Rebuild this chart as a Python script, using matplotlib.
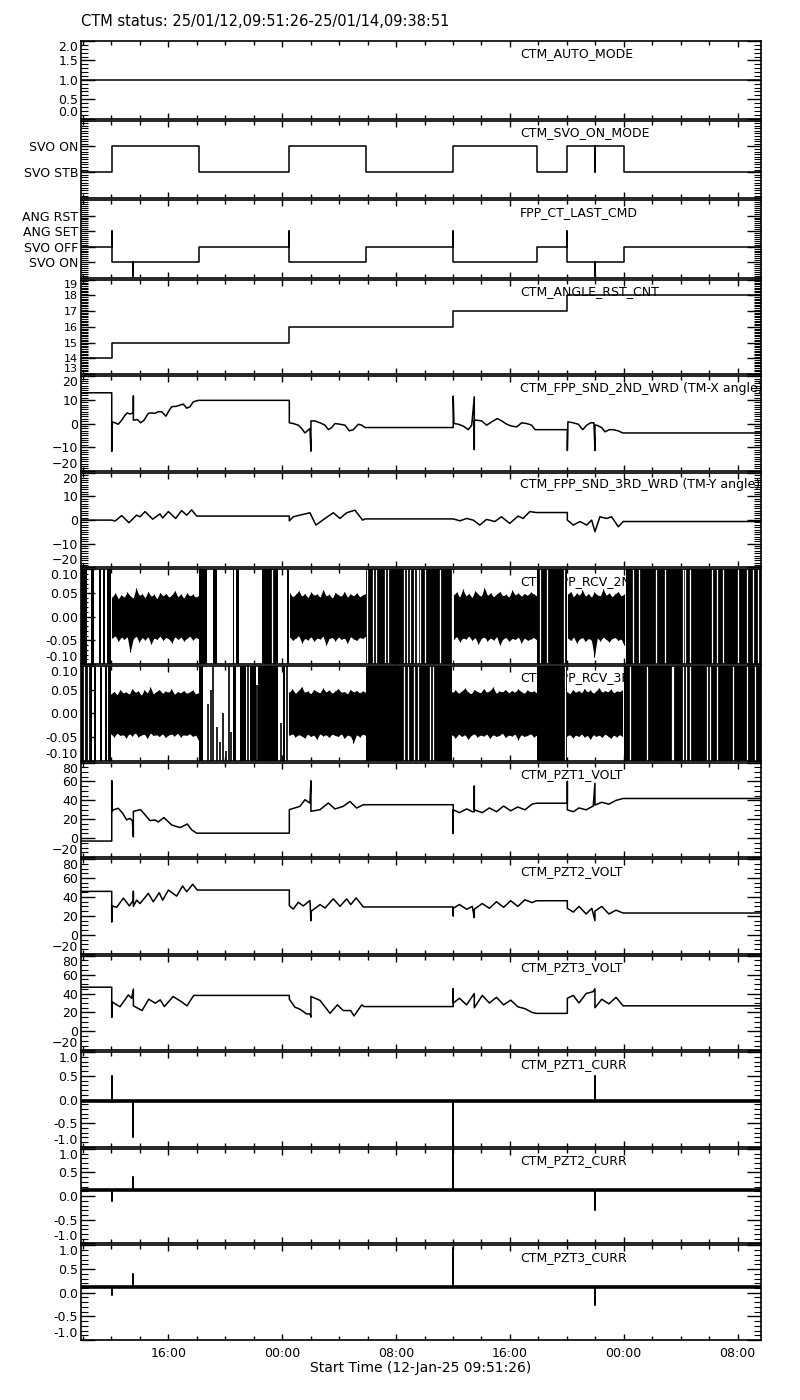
import numpy as np
import matplotlib
matplotlib.use("Agg")
import matplotlib.pyplot as plt
import matplotlib.dates as mdates
from matplotlib.ticker import MultipleLocator, FixedLocator, FixedFormatter, FormatStrFormatter
from datetime import datetime

start = datetime(2025, 1, 12, 9, 51, 26)
end = datetime(2025, 1, 14, 9, 38, 51)
span_h = (end - start).total_seconds() / 3600.0
title = "CTM status: 25/01/12,09:51:26-25/01/14,09:38:51"

# ---- data (hours since start) ----
auto_t = [0.0, span_h]
auto_v = [1.0, 1.0]

svo_t = [0, 2.18, 2.18, 8.27, 8.27, 14.64, 14.64, 20.01, 20.01, 26.16, 26.16, 32.03, 32.03,
         34.18, 34.18, 36.12, 36.12, 36.12, 38.16, 38.16, span_h]
svo_v = [1, 1, 2, 2, 1, 1, 2, 2, 1, 1, 2, 2, 1, 1, 2, 2, 1, 2, 2, 1, 1]

cmd_t = [0, 2.18, 2.18, 2.18, 3.68, 3.68, 3.68, 8.27, 8.27, 14.64, 14.64, 14.64, 20.01, 20.01,
         26.16, 26.16, 26.16, 32.03, 32.03, 34.18, 34.18, 34.18, 36.12, 36.12, 36.12, 38.16, 38.16, span_h]
cmd_v = [2, 2, 3, 1, 1, 0, 1, 1, 2, 2, 3, 1, 1, 2, 2, 3, 1, 1, 2, 2, 3, 1, 1, 0, 1, 1, 2, 2]

rst_t = [0, 2.18, 2.18, 14.64, 14.64, 26.16, 26.16, 34.18, 34.18, span_h]
rst_v = [14, 14, 15, 15, 16, 16, 17, 17, 18, 18]

x_t = [0, 2.16, 2.16, 2.16, 2.39, 2.62, 2.86, 3.09, 3.26, 3.44, 3.56, 3.68, 3.68, 3.68, 3.96, 4.19, 4.43,
       4.73, 4.97, 5.20, 5.43, 5.67, 5.97, 6.14, 6.37, 6.72, 6.96, 7.19, 7.43, 7.66, 7.89, 8.13, 8.27,
       14.64, 14.64, 14.92, 15.27, 15.51, 15.74, 16.09, 16.16, 16.16, 16.44, 16.80, 17.15, 17.38, 17.62,
       17.85, 18.20, 18.55, 18.86, 19.14, 19.49, 19.73, 19.96,
       26.16, 26.16, 26.21, 26.52, 26.87, 27.22, 27.46, 27.64, 27.64, 27.64, 27.81, 28.16, 28.51, 28.86,
       29.26, 29.57, 29.92, 30.27, 30.62, 30.97, 31.32, 31.67, 31.91,
       34.18, 34.18, 34.22, 34.60, 34.95, 35.26, 35.54, 35.82, 36.05, 36.12, 36.12, 36.24, 36.59, 36.83,
       37.13, 37.41, 37.76, 38.07, span_h]
x_v = [13, 13, -11.7, 0.7, 0.3, -0.3, 1.4, 3.5, 4.5, 4.0, 4.3, 4.3, 11.6, 1.4, 1.7, 0.3, 1.4,
       4.3, 4.5, 4.3, 5.0, 5.0, 3.1, 5.0, 7.1, 7.3, 7.8, 8.2, 6.5, 7.1, 9.2, 9.6, 9.8,
       9.8, 0.3, 0.0, -0.7, -2.1, -4.0, -2.1, -11.7, 1.1, 1.1, 0.3, -0.7, -2.6, -1.7,
       0.0, -0.3, -0.7, -3.1, -2.6, -0.3, -0.7, -1.7,
       -1.7, 11.6, 0.0, -0.3, -1.1, -2.6, -0.7, 11.3, -11.0, 1.4, 1.4, 1.1, -0.7, 0.7,
       2.1, 1.1, -0.3, -1.1, -1.4, 0.3, 0.0, -0.7, -2.6,
       -2.6, -11.4, 0.7, 0.3, -0.3, -2.6, -0.7, 0.3, 0.3, -11.4, -0.7, -0.7, -1.7, -3.5,
       -2.6, -2.6, -3.1, -4.0, -4.0]

y_t = [0, 2.16, 2.39, 2.86, 3.37, 3.91, 4.15, 4.50, 5.04, 5.55, 5.74, 6.14, 6.65, 7.07, 7.43, 7.78, 8.13,
       14.64, 14.64, 14.92, 15.39, 16.09, 16.51, 17.15, 17.73, 18.20, 18.67, 19.25, 19.79, 19.96,
       26.16, 26.63, 27.10, 27.56, 28.03, 28.50, 29.08, 29.55, 30.13, 30.72, 31.07, 31.54, 32.00,
       34.18, 34.18, 34.60, 35.07, 35.54, 35.89, 36.12, 36.47, 36.94, 37.29, 37.76, 38.11, span_h]
y_v = [0, 0, -0.4, 1.9, -1.1, 2.1, 1.4, 3.6, 0.4, 2.6, 0.9, 3.6, 0.7, 4.0, 2.1, 4.3, 1.7,
       1.7, -0.3, 1.4, 2.1, 3.1, -2.1, 0.7, 3.1, 0.7, 3.1, 4.2, 0.0, 0.5,
       0.5, -0.3, 0.7, 0.0, -2.1, 0.3, -0.6, 1.4, -1.4, 1.7, 0.7, 3.6, 3.2,
       3.2, 0.0, -2.1, -0.6, -2.1, 0.0, -4.9, 1.4, 0.7, 1.4, -2.8, -0.6, -0.6]

p1_t = [0, 2.16, 2.16, 2.16, 2.27, 2.62, 2.93, 3.21, 3.44, 3.61, 3.68, 3.68, 4.19, 4.85, 5.20, 5.43, 5.83,
        6.37, 6.96, 7.47, 7.78, 8.13, 14.64, 14.64, 15.16, 15.39, 15.74, 16.09, 16.16, 16.16, 16.80,
        17.38, 17.85, 18.43, 18.90, 19.37, 19.84,
        26.16, 26.16, 26.16, 26.6, 27.1, 27.5, 27.64, 27.64, 27.64, 28.2, 28.7, 29.2, 29.7, 30.2, 30.7,
        31.2, 31.7, 32.0, 34.18, 34.18, 34.18, 34.6, 35.0, 35.5, 36.0, 36.12, 36.12, 36.6, 37.1, 37.6,
        38.1, span_h]
p1_v = [-3, -3, 60.7, 28.4, 30, 31.6, 26.3, 19.3, 21, 18.6, 1.4, 28.4, 30.2, 18.6, 19.3, 17.2, 21.8,
        14, 11.2, 15, 8.8, 5.3, 5.3, 30.2, 32.6, 33.7, 40.7, 37.2, 60.7, 28.4, 30.2,
        37.2, 30.9, 33.7, 38.9, 31.9, 35.4,
        35.4, 5, 30, 27, 31, 28, 28, 55, 30, 27, 32, 28, 34, 29, 33,
        30, 36, 37, 37, 60, 30, 28, 32, 30, 34, 58, 35, 38, 36, 40,
        42, 42]

p2_t = [0, 2.16, 2.16, 2.16, 2.51, 2.98, 3.40, 3.68, 3.68, 3.68, 3.91, 4.15, 4.73, 5.08, 5.50, 5.74,
        6.14, 6.72, 7.14, 7.43, 7.85, 8.17, 14.64, 14.64, 14.92, 15.27, 15.62, 16.09, 16.16, 16.16,
        16.80, 17.15, 17.73, 18.20, 18.67, 18.96, 19.34, 19.84,
        26.16, 26.16, 26.16, 26.6, 27.1, 27.5, 27.64, 27.64, 28.2, 28.7, 29.2, 29.7, 30.2, 30.7,
        31.2, 31.7, 32.0, 34.18, 34.18, 34.6, 35.0, 35.5, 35.9, 36.12, 36.12, 36.6, 37.1, 37.6, 38.1, span_h]
p2_v = [45.9, 45.9, 13.7, 30.5, 29.1, 38.8, 30.5, 36.6, 45.9, 30, 36.6, 33, 43.8, 34.9, 44.5, 36.6,
        47.3, 40.9, 51.6, 45.5, 53.4, 47.3, 47.3, 30.8, 27.2, 34.4, 30.5, 36.2, 14.9, 24.7,
        31.9, 28.3, 38, 30.1, 38, 31.9, 39, 29.4,
        29.4, 20, 28, 32, 27, 30, 18, 27, 33, 28, 35, 29, 36, 30,
        37, 34, 36, 36, 28, 24, 30, 22, 28, 15, 25, 30, 22, 26, 23, 23]

p3_t = [0, 2.16, 2.16, 2.16, 2.74, 3.33, 3.56, 3.68, 3.68, 4.29, 4.76, 5.22, 5.57, 5.86, 6.47, 7.03,
        7.45, 7.92, 14.64, 14.64, 15.04, 15.39, 15.86, 16.09, 16.16, 16.16, 16.80, 17.50, 18.02, 18.43,
        18.95, 19.19, 19.73, 19.9,
        26.16, 26.16, 26.16, 26.6, 27.1, 27.64, 27.64, 28.2, 28.7, 29.2, 29.7, 30.2, 30.7, 31.2, 31.7,
        32.0, 34.18, 34.18, 34.6, 35.0, 35.5, 36.0, 36.12, 36.12, 36.6, 37.1, 37.6, 38.1, span_h]
p3_v = [46.7, 46.7, 14.8, 31.4, 26, 38.5, 35, 44.7, 27, 22, 34, 29.8, 33.3, 26.2, 36.9, 31.6,
        27, 38, 38, 34, 25.5, 23.4, 18.4, 18.4, 15, 36.9, 32.7, 19.1, 28, 22,
        22, 16.3, 28, 26.2,
        26.2, 45, 30, 35, 28, 40, 25, 38, 30, 36, 28, 33, 26, 24, 20,
        19, 19, 35, 38, 30, 40, 42, 45, 25, 34, 29, 36, 27, 27]

c1_t = [0, 2.18, 2.18, 2.18, 3.68, 3.68, 3.68, 26.16, 26.16, 26.16, 36.12, 36.12, 36.12, span_h]
c1_v = [-0.02, -0.02, 0.5, -0.02, -0.02, -0.8, -0.02, -0.02, -1.0, -0.02, -0.02, 0.5, -0.02, -0.02]
c2_t = [0, 2.18, 2.18, 2.18, 3.68, 3.68, 3.68, 26.16, 26.16, 26.16, 36.12, 36.12, 36.12, span_h]
c2_v = [0.12, 0.12, -0.1, 0.12, 0.12, 0.4, 0.12, 0.12, 1.0, 0.12, 0.12, -0.3, 0.12, 0.12]
c3_t = [0, 2.18, 2.18, 2.18, 3.68, 3.68, 3.68, 26.16, 26.16, 26.16, 36.12, 36.12, 36.12, span_h]
c3_v = [0.12, 0.12, -0.05, 0.12, 0.12, 0.4, 0.12, 0.12, 0.95, 0.12, 0.12, -0.25, 0.12, 0.12]

# RCV words: saturated (black) time ranges, white gaps, noise envelopes
rcv2_black = [(0.00, 0.44), (0.68, 0.93), (1.24, 1.41), (1.53, 1.71), (1.85, 2.13), (8.29, 8.88),
              (9.30, 9.58), (10.66, 10.75), (10.89, 11.13), (12.35, 12.39), (12.70, 13.87),
              (14.50, 14.60), (20.01, 26.16), (32.03, 34.18), (38.30, span_h)]
rcv2_white = [13.42, 20.13, 20.52, 20.70, 21.33, 21.61, 22.70, 22.89, 23.12, 23.40, 23.59, 23.71,
              23.82, 24.18, 25.23, 26.05, 32.26, 32.75, 33.94, 38.79, 39.22, 40.41, 41.05, 42.31,
              42.45, 42.80, 44.35, 44.70, 45.12, 46.17, 46.80, 47.22, 47.57]
rcv2_bands = [(2.20, 8.27), (14.66, 20.01), (26.18, 32.03), (34.20, 38.16)]
rcv2_up = [
    [0.042, 0.050, 0.038, 0.046, 0.041, 0.052, 0.044, 0.039, 0.060, 0.045, 0.048, 0.040, 0.053, 0.043, 0.047,
     0.038, 0.051, 0.044, 0.049, 0.041, 0.046, 0.055, 0.042, 0.048, 0.039, 0.050, 0.044, 0.047, 0.041, 0.045],
    [0.050, 0.042, 0.047, 0.055, 0.043, 0.049, 0.040, 0.052, 0.045, 0.048, 0.041, 0.057, 0.044, 0.047,
     0.039, 0.051, 0.046, 0.043, 0.053, 0.041, 0.048, 0.044, 0.050, 0.042, 0.046, 0.049],
    [0.046, 0.052, 0.041, 0.058, 0.044, 0.049, 0.040, 0.055, 0.047, 0.043, 0.061, 0.045, 0.050, 0.042,
     0.048, 0.053, 0.044, 0.047, 0.041, 0.056, 0.046, 0.050, 0.043, 0.049, 0.045, 0.052, 0.048, 0.044],
    [0.047, 0.053, 0.042, 0.050, 0.045, 0.056, 0.043, 0.049, 0.041, 0.052, 0.046, 0.044, 0.058, 0.045,
     0.050, 0.042, 0.048, 0.053, 0.044, 0.047]]
rcv2_lo = [
    [-0.045, -0.040, -0.052, -0.043, -0.048, -0.042, -0.075, -0.047, -0.041, -0.053, -0.044, -0.049, -0.042,
     -0.058, -0.045, -0.048, -0.041, -0.050, -0.044, -0.047, -0.055, -0.042, -0.048, -0.043, -0.051, -0.046,
     -0.041, -0.049, -0.044, -0.047],
    [-0.043, -0.050, -0.045, -0.040, -0.055, -0.046, -0.049, -0.042, -0.052, -0.045, -0.047, -0.041, -0.060,
     -0.046, -0.044, -0.051, -0.043, -0.048, -0.045, -0.056, -0.042, -0.047, -0.050, -0.044, -0.046, -0.041],
    [-0.048, -0.042, -0.053, -0.045, -0.047, -0.041, -0.050, -0.044, -0.058, -0.046, -0.043, -0.051, -0.045,
     -0.049, -0.042, -0.060, -0.047, -0.044, -0.052, -0.046, -0.048, -0.043, -0.055, -0.045, -0.050, -0.047,
     -0.044, -0.049],
    [-0.045, -0.050, -0.043, -0.055, -0.047, -0.044, -0.052, -0.046, -0.049, -0.085, -0.045, -0.051, -0.043,
     -0.048, -0.053, -0.046, -0.044, -0.050, -0.047, -0.060]]

rcv3_black = [(0.00, 0.75), (0.91, 1.05), (1.34, 1.48), (1.69, 1.85), (1.92, 2.11), (8.27, 8.60),
              (10.68, 10.89), (11.17, 11.60), (11.88, 12.30), (12.44, 13.84), (14.20, 14.34),
              (20.01, 26.05), (32.03, 34.13), (38.16, span_h)]
rcv3_white = [0.21, 0.49, 22.70, 22.98, 23.40, 23.68, 24.53, 24.74, 34.01, 38.58, 39.78, 41.54,
              41.63, 42.29, 42.52, 42.80, 43.99, 44.21, 44.70, 45.82, 46.80, 47.37]
rcv3_part_t = [8.95, 9.11, 9.30, 9.54, 9.77, 10.00, 10.20, 10.40, 10.52, 11.75, 12.36, 14.05, 14.45]
rcv3_part_top = [0.02, 0.05, 0.10, -0.03, -0.06, 0.00, -0.08, 0.10, -0.04, 0.10, 0.06, -0.02, 0.10]
rcv3_bands = [(2.11, 8.27), (14.64, 20.01), (26.10, 32.03), (34.15, 38.05)]
rcv3_up = [
    [0.041, 0.046, 0.039, 0.050, 0.043, 0.045, 0.040, 0.052, 0.044, 0.047, 0.038, 0.049, 0.043, 0.055, 0.041,
     0.046, 0.050, 0.042, 0.047, 0.044, 0.051, 0.040, 0.046, 0.043, 0.048, 0.042, 0.045, 0.049, 0.041, 0.044],
    [0.045, 0.051, 0.042, 0.048, 0.056, 0.044, 0.047, 0.041, 0.050, 0.046, 0.043, 0.053, 0.045, 0.049,
     0.042, 0.047, 0.052, 0.044, 0.046, 0.041, 0.050, 0.045, 0.048, 0.043, 0.047, 0.044],
    [0.044, 0.049, 0.042, 0.047, 0.053, 0.045, 0.041, 0.050, 0.046, 0.043, 0.052, 0.044, 0.048, 0.055,
     0.042, 0.047, 0.045, 0.050, 0.043, 0.048, 0.044, 0.051, 0.046, 0.042, 0.049, 0.045, 0.047, 0.043],
    [0.046, 0.041, 0.050, 0.044, 0.048, 0.043, 0.052, 0.045, 0.049, 0.042, 0.047, 0.054, 0.044, 0.048,
     0.045, 0.051, 0.043, 0.047, 0.046, 0.049]]
rcv3_lo = [
    [-0.044, -0.050, -0.042, -0.047, -0.045, -0.052, -0.043, -0.048, -0.041, -0.050, -0.046, -0.044, -0.053,
     -0.042, -0.047, -0.045, -0.049, -0.043, -0.051, -0.046, -0.044, -0.048, -0.042, -0.050, -0.045, -0.047,
     -0.043, -0.049, -0.046, -0.058],
    [-0.047, -0.043, -0.050, -0.045, -0.048, -0.052, -0.044, -0.049, -0.046, -0.055, -0.043, -0.048, -0.045,
     -0.051, -0.044, -0.047, -0.049, -0.043, -0.053, -0.046, -0.048, -0.062, -0.045, -0.050, -0.044, -0.047],
    [-0.046, -0.052, -0.044, -0.049, -0.045, -0.055, -0.047, -0.043, -0.050, -0.046, -0.048, -0.044, -0.053,
     -0.045, -0.049, -0.047, -0.042, -0.051, -0.046, -0.048, -0.044, -0.056, -0.045, -0.049, -0.047, -0.043,
     -0.050, -0.046],
    [-0.048, -0.045, -0.052, -0.046, -0.049, -0.044, -0.050, -0.047, -0.055, -0.045, -0.049, -0.046, -0.051,
     -0.044, -0.048, -0.053, -0.046, -0.050, -0.045, -0.049]]

names = ["CTM_AUTO_MODE", "CTM_SVO_ON_MODE", "FPP_CT_LAST_CMD", "CTM_ANGLE_RST_CNT",
         "CTM_FPP_SND_2ND_WRD (TM-X angle)", "CTM_FPP_SND_3RD_WRD (TM-Y angle)",
         "CTM_FPP_RCV_2ND_WRD", "CTM_FPP_RCV_3RD_WRD",
         "CTM_PZT1_VOLT", "CTM_PZT2_VOLT", "CTM_PZT3_VOLT",
         "CTM_PZT1_CURR", "CTM_PZT2_CURR", "CTM_PZT3_CURR"]


t0 = mdates.date2num(start)


def tt(h):
    return t0 + np.asarray(h, dtype=float) / 24.0


plt.rcParams['font.family'] = 'DejaVu Sans'
plt.rcParams['font.size'] = 9

fig = plt.figure(figsize=(8, 14), dpi=100)
gs = fig.add_gridspec(14, 1, left=81/800, right=761/800, top=1-41/1400, bottom=1-1340/1400,
                      hspace=0.022, height_ratios=[0.82]*3 + [1]*11)
axes = [fig.add_subplot(gs[i]) for i in range(14)]

LW = 1.1

for i, ax in enumerate(axes):
    ax.set_xlim(tt(0), tt(span_h))
    ax.xaxis.set_major_locator(mdates.HourLocator(byhour=[0, 8, 16]))
    ax.xaxis.set_minor_locator(mdates.HourLocator(byhour=range(0, 24, 2)))
    ax.xaxis.set_major_formatter(mdates.DateFormatter('%H:%M'))
    ax.tick_params(axis='x', which='both', direction='in', top=True, bottom=True, pad=5)
    ax.tick_params(axis='x', which='major', length=4.5, width=1)
    ax.tick_params(axis='x', which='minor', length=3, width=1)
    ax.tick_params(axis='y', which='both', direction='in', left=True, right=True, pad=2)
    ax.tick_params(axis='y', which='major', length=10, width=1)
    ax.tick_params(axis='y', which='minor', length=5, width=0.8)
    if i < 13:
        ax.tick_params(labelbottom=False)
    for s in ax.spines.values():
        s.set_linewidth(1.2)
        s.set_zorder(5)
    ax.annotate(names[i], xy=(0.6456, 1), xycoords='axes fraction', xytext=(0, -4),
                textcoords='offset points', ha='left', va='top', fontsize=9, zorder=0.5)

# 1 auto mode
ax = axes[0]
ax.plot(tt(auto_t), auto_v, color='k', lw=LW)
ax.set_ylim(0, 2)
ax.yaxis.set_major_locator(MultipleLocator(0.5))
ax.yaxis.set_minor_locator(MultipleLocator(0.1))
ax.yaxis.set_major_formatter(FormatStrFormatter('%.1f'))

# 2 servo on mode
ax = axes[1]
ax.plot(tt(svo_t), svo_v, color='k', lw=LW)
ax.set_ylim(0, 3)
ax.yaxis.set_major_locator(FixedLocator([1, 2]))
ax.yaxis.set_major_formatter(FixedFormatter(["SVO STB", "SVO ON"]))
ax.yaxis.set_minor_locator(MultipleLocator(0.1))

# 3 last cmd
ax = axes[2]
ax.plot(tt(cmd_t), cmd_v, color='k', lw=LW)
ax.set_ylim(0, 5)
ax.yaxis.set_major_locator(FixedLocator([1, 2, 3, 4]))
ax.yaxis.set_major_formatter(FixedFormatter(["SVO ON", "SVO OFF", "ANG SET", "ANG RST"]))
ax.yaxis.set_minor_locator(MultipleLocator(0.125))

# 4 angle reset count
ax = axes[3]
ax.plot(tt(rst_t), rst_v, color='k', lw=LW)
ax.set_ylim(13, 19)
ax.yaxis.set_major_locator(MultipleLocator(1))
ax.yaxis.set_minor_locator(MultipleLocator(0.1))
ax.tick_params(axis='y', labelsize=8)

# 5, 6 angles
for ax, t, v in [(axes[4], x_t, x_v), (axes[5], y_t, y_v)]:
    ax.plot(tt(t), v, color='k', lw=LW)
    ax.set_ylim(-20, 20)
    ax.yaxis.set_major_locator(MultipleLocator(10))
    ax.yaxis.set_minor_locator(MultipleLocator(1))

# 7, 8 received words
for ax, blk, wht, bands, ups, los in [(axes[6], rcv2_black, rcv2_white, rcv2_bands, rcv2_up, rcv2_lo),
                                      (axes[7], rcv3_black, rcv3_white, rcv3_bands, rcv3_up, rcv3_lo)]:
    for a, b in blk:
        ax.axvspan(tt(a), tt(b), color='k', lw=0, zorder=2)
    ax.vlines(tt(wht), -0.1, 0.1, color='white', lw=0.9, zorder=3)
    for (a, b), up, lo in zip(bands, ups, los):
        tb = tt(np.linspace(a, b, len(up)))
        ax.fill_between(tb, lo, up, color='k', lw=0, zorder=2)
        ax.vlines(tb, lo, up, color='k', lw=0.8, zorder=2)
    ax.set_ylim(-0.1, 0.1)
    ax.yaxis.set_major_locator(MultipleLocator(0.05))
    ax.yaxis.set_minor_locator(MultipleLocator(0.01))
    ax.yaxis.set_major_formatter(FormatStrFormatter('%.2f'))
axes[7].vlines(tt(rcv3_part_t), -0.1, rcv3_part_top, color='k', lw=1.2, zorder=2)

# 9-11 PZT voltages
for ax, t, v in [(axes[8], p1_t, p1_v), (axes[9], p2_t, p2_v), (axes[10], p3_t, p3_v)]:
    ax.plot(tt(t), v, color='k', lw=LW)
    ax.set_ylim(-20, 80)
    ax.yaxis.set_major_locator(MultipleLocator(20))
    ax.yaxis.set_minor_locator(MultipleLocator(5))

# 12-14 PZT currents
for ax, t, v in [(axes[11], c1_t, c1_v), (axes[12], c2_t, c2_v), (axes[13], c3_t, c3_v)]:
    ax.plot(tt(t), v, color='k', lw=LW)
    ax.plot(tt([t[0], t[-1]]), [v[0], v[-1]], color='k', lw=2.6)
    ax.set_ylim(-1.0, 1.0)
    ax.yaxis.set_major_locator(MultipleLocator(0.5))
    ax.yaxis.set_minor_locator(MultipleLocator(0.1))
    ax.yaxis.set_major_formatter(FormatStrFormatter('%.1f'))

axes[13].set_xlabel("Start Time (12-Jan-25 09:51:26)", fontsize=10, labelpad=1)
fig.text(81/800, 1-29/1400, title, fontsize=10.5, ha='left', va='bottom')

# keep the end labels inside their own panel
fig.canvas.draw()
for ax in axes:
    lo, hi = ax.get_ylim()
    eps = 1e-6 * (hi - lo)
    for tick in ax.yaxis.get_major_ticks():
        loc = tick.get_loc()
        if abs(loc - hi) < eps:
            tick.label1.set_va('top')
        elif abs(loc - lo) < eps:
            tick.label1.set_va('bottom')

fig.savefig("out.png", dpi=100)
